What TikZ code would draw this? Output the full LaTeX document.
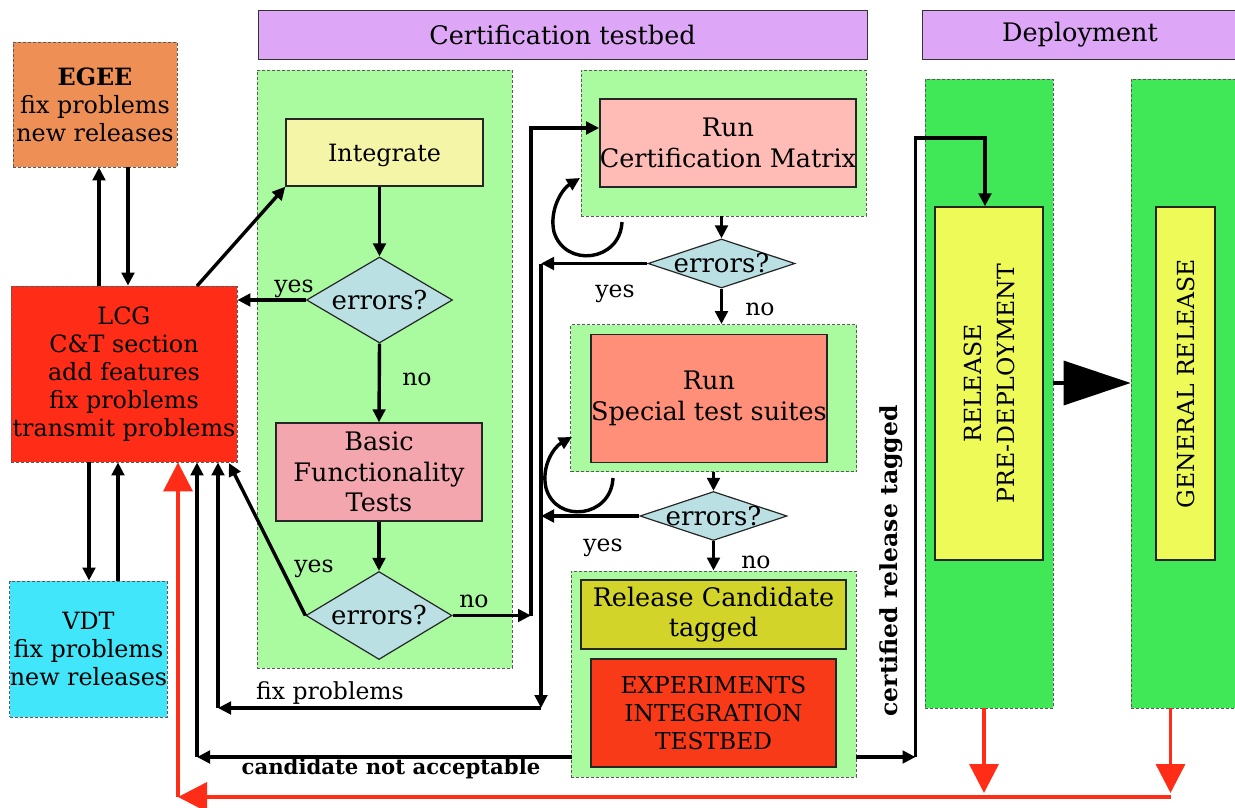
\documentclass[tikz,border=0pt]{standalone}
\usepackage{fontspec}
\setmainfont{DejaVu Serif}
\usetikzlibrary{shapes.geometric,arrows.meta}

\definecolor{hdrcol}{HTML}{DDA6F6}
\definecolor{panelcol}{HTML}{AAFAA0}
\definecolor{egeecol}{HTML}{EE8F55}
\definecolor{lcgcol}{HTML}{FF2D18}
\definecolor{vdtcol}{HTML}{42E6FA}
\definecolor{intcol}{HTML}{F5F5A8}
\definecolor{basiccol}{HTML}{F4A6AE}
\definecolor{diacol}{HTML}{BAE0E4}
\definecolor{matrixcol}{HTML}{FFBCB6}
\definecolor{specialcol}{HTML}{FF8F78}
\definecolor{rccol}{HTML}{D2D42A}
\definecolor{expcol}{HTML}{F83A18}
\definecolor{deploycol}{HTML}{40E858}
\definecolor{relcol}{HTML}{EEFA58}
\definecolor{redline}{HTML}{FF2D18}

\tikzset{
  hdr/.style={draw=black!80, line width=0.8pt, fill=hdrcol, inner sep=0pt,
    font=\fontsize{25.5}{30}\selectfont},
  panel/.style={draw=black!65, line width=0.8pt, dash pattern=on 3pt off 2pt,
    inner sep=0pt},
  area/.style={panel, align=center, font=\fontsize{23.8}{28}\selectfont},
  box/.style={draw=black!85, line width=1.4pt, inner sep=0pt, align=center,
    font=\fontsize{25.5}{30.5}\selectfont},
  dia/.style={diamond, draw=black!85, line width=1.2pt, fill=diacol,
    inner sep=0pt},
  dtxt/.style={inner sep=0pt, font=\fontsize{26}{30}\selectfont},
  lbl/.style={inner sep=0pt, font=\fontsize{23.5}{26}\selectfont},
  blbl/.style={inner sep=0pt, font=\fontsize{21.2}{25}\selectfont\bfseries},
  arr/.style={line width=3.4pt, -{Triangle[length=13pt,width=12.5pt]}},
  redarr/.style={draw=redline, line width=3.5pt,
    -{Triangle[length=29pt,width=29pt]}},
  bigarr/.style={line width=3.5pt, -{Triangle[length=67pt,width=44pt]}},
}

\begin{document}
\begin{tikzpicture}[x=1pt,y=-1pt]
\useasboundingbox (0,0) rectangle (1235,808);
\clip (0,0) rectangle (1235,808);

% section headers
\node[hdr, minimum width=609, minimum height=49] (certhdr) at (562.5,34.5) {Certification testbed};
\node[hdr, minimum width=316, minimum height=49] (dephdr) at (1080,34.5) {Deployment};

% outside groups
\node[area, fill=egeecol, minimum width=164, minimum height=125] (egee) at (95,104.5)
  {\textbf{EGEE}\\fix problems\\new releases};
\node[area, fill=lcgcol, minimum width=226, minimum height=176] (lcg) at (124,374)
  {LCG\\C\&T section\\add features\\fix problems\\transmit problems};
\node[area, fill=vdtcol, minimum width=157, minimum height=136] (vdt) at (88.5,649)
  {VDT\\fix problems\\new releases};

% certification panels
\node[panel, fill=panelcol, minimum width=255, minimum height=598] (p1) at (384.5,369) {};
\node[panel, fill=panelcol, minimum width=285, minimum height=146] (p2) at (723.5,143) {};
\node[panel, fill=panelcol, minimum width=286, minimum height=147] (p3) at (713.5,398) {};
\node[panel, fill=panelcol, minimum width=285, minimum height=206] (p4) at (713.5,674) {};

% deployment panels
\node[panel, fill=deploycol, minimum width=128, minimum height=629] (pp) at (989,393.5) {};
\node[panel, fill=deploycol, minimum width=128, minimum height=629] (gp) at (1195,393.5) {};

% first panel: integration and basic tests
\node[box, fill=intcol, minimum width=197, minimum height=67] (integ) at (384.5,152.5) {};
\node[inner sep=0pt, font=\fontsize{23.8}{28}\selectfont] (integtxt) at ([yshift=-2.5pt]integ.center) {Integrate};
\node[dia, minimum width=146, minimum height=86] (d1) at (379.5,300) {};
\node[dtxt] at (d1.center) {errors?};
\node[box, fill=basiccol, minimum width=206, minimum height=98] (basic) at (379,472)
  {Basic\\Functionality\\Tests};
\node[dia, minimum width=146, minimum height=88] (d2) at (379,615.5) {};
\node[dtxt] at (d2.center) {errors?};

% certification matrix and special suites
\node[box, fill=matrixcol, minimum width=256, minimum height=88] (matrix) at (728,143)
  {Run\\Certification Matrix};
\node[dia, minimum width=147, minimum height=49] (d3) at (721.5,263.5) {};
\node[dtxt] at (d3.center) {errors?};
\node[box, fill=specialcol, minimum width=236, minimum height=128] (special) at (709,398.5)
  {Run\\Special test suites};
\node[dia, minimum width=147, minimum height=49] (d4) at (713.5,516) {};
\node[dtxt] at (d4.center) {errors?};

% release candidate
\node[box, fill=rccol, minimum width=265, minimum height=69] (rc) at (713.5,614.5)
  {Release Candidate\\tagged};
\node[box, fill=expcol, minimum width=245, minimum height=108, font=\fontsize{23.3}{28}\selectfont]
  (exp) at (713.5,713) {EXPERIMENTS\\INTEGRATION\\TESTBED};

% deployment stages
\node[box, fill=relcol, minimum width=108, minimum height=353] (pre) at (989,383.5) {};
\node[box, fill=relcol, minimum width=59, minimum height=353] (gen) at (1185.5,383.5) {};
\node[rotate=90, align=center, inner sep=0pt, font=\fontsize{23.6}{33}\selectfont] (pretxt) at (pre.center)
  {RELEASE\\PRE-DEPLOYMENT};
\node[rotate=90, inner sep=0pt, font=\fontsize{23.5}{28}\selectfont] (gentxt) at (gen.center)
  {GENERAL RELEASE};

% junction points of the routed connectors
\coordinate (egeeup) at (99,0);
\coordinate (egeedn) at (128,0);
\coordinate (vdtdn) at (89,0);
\coordinate (vdtup) at (118,0);
\coordinate (jn1) at (531,615.5);
\coordinate (jn2) at (531,128);
\coordinate (fxtop) at (541,263.5);
\coordinate (fxbot) at (541,708);
\coordinate (fxcorner) at (218,708);
\coordinate (cn1) at (571.5,757);
\coordinate (cncorner) at (197,757);
\coordinate (cr1) at (856,757);
\coordinate (cr2) at (915.5,757);
\coordinate (crtop) at (915.5,138);
\coordinate (crend) at (985,138);
\coordinate (lcgdiag) at (229,463);
\coordinate (lcgtop) at (197,286);
\coordinate (rd1) at (984,708);
\coordinate (rd2) at (1170.5,708);
\coordinate (redend) at (1170.5,797);
\coordinate (redcorner) at (178,797);

% LCG exchanges with EGEE and VDT
\draw[arr] (egeeup |- lcg.north) -- (egeeup |- egee.south);
\draw[arr] (egeedn |- egee.south) -- (egeedn |- lcg.north);
\draw[arr] (vdtdn |- lcg.south) -- (vdtdn |- vdt.north);
\draw[arr] (vdtup |- vdt.north) -- (vdtup |- lcg.south);

% integration flow
\draw[arr] (lcgtop) -- (integ.south west);
\draw[arr] (integ.south -| d1.north) -- (d1.north);
\draw[arr] (d1.south) -- (basic.north);
\node[lbl] (no1) at (417,379) {no};
\draw[arr] (basic.south) -- (d2.north);
\draw[arr] (d1.west) -- (d1.west -| lcg.east);
\node[lbl] (yes1) at (294,289) {yes};
\draw[arr] (d2.west) -- (lcgdiag);
\node[lbl] (yes2) at (314,569) {yes};
\draw[arr] (d2.east) -- (jn1);
\node[lbl] (no2) at (474,601) {no};
\draw[arr] (jn1) -- (jn2) -- (jn2 -| matrix.west);

% certification matrix loop
\draw[arr] (622,222) .. controls (620,262) and (565,268) .. (554,232)
  .. controls (549,210) and (562,189) .. (580,178);
\draw[arr] (p2.south -| d3.north) -- (d3.north);
\draw[arr] (d3.south) -- (d3.south |- p3.north);
\node[lbl] (no3) at (760,309) {no};
\draw[arr] (d3.west) -- (fxtop);
\node[lbl] (yes3) at (615,294) {yes};

% special suites loop
\draw[arr] (613,478) .. controls (611,518) and (556,524) .. (546,488)
  .. controls (541,466) and (554,447) .. (572,437);
\draw[arr] (p3.south -| d4.north) -- (d4.north);
\draw[arr] (d4.south) -- (d4.south |- p4.north);
\node[lbl] (no4) at (756,562) {no};
\draw[arr] (d4.west) -- (d4.west -| fxtop);
\node[lbl] (yes4) at (603,548) {yes};

% fix problems return
\draw[arr] (fxtop) -- (fxbot);
\draw[arr] (fxbot) -- (fxcorner);
\draw[arr] (fxcorner) -- (fxcorner |- lcg.south);
\node[lbl] (fixlbl) at (330,693) {fix problems};

% rejected candidate
\draw[arr] (cn1) -- (cncorner);
\draw[arr] (cncorner) -- (cncorner |- lcg.south);
\node[blbl] (cnlbl) at (391,769) {candidate not acceptable};

% certified release
\draw[arr] (cr1) -- (cr2);
\draw[arr] (cr2) -- (crtop) -- (crend) -- (crend |- pre.north);
\node[blbl, rotate=90, font=\fontsize{23.5}{26}\selectfont\bfseries] (crlbl) at (891,561)
  {certified release tagged};

% deployment
\draw[bigarr] (pp.east |- 0,383) -- (gp.west |- 0,383);
\draw[redarr] (rd1) -- (984,793);
\draw[redarr] (rd2) -- (1170.5,793);
\draw[redarr] (redend) -- (redcorner);
\draw[redarr] (redcorner) -- (redcorner |- lcg.south);
\end{tikzpicture}
\end{document}
